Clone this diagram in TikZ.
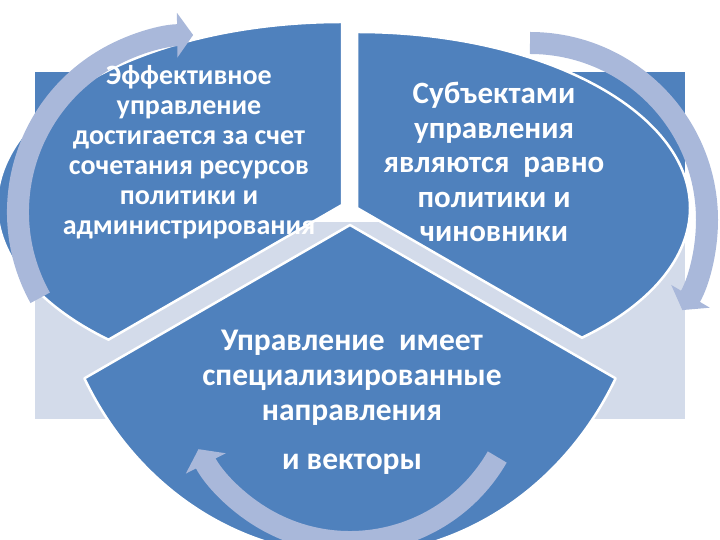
\documentclass[tikz,border=0pt]{standalone}
\usepackage{fontspec}
\setmainfont{Carlito}
\usepackage{xcolor}
\definecolor{SliceBlue}{HTML}{4F81BD}
\definecolor{SlicePale}{HTML}{D3DBEA}
\definecolor{CycleArrow}{HTML}{A9B8DA}
\usetikzlibrary{arrows.meta}
\usetikzlibrary{calc}

\begin{document}
\begin{tikzpicture}[x=1pt, y=1pt,
    slice/.style={fill=SliceBlue, draw=white, line width=2.5pt, line join=round},
    cyclearrow/.style={draw=CycleArrow, line width=22pt,
      -{Triangle[length=16pt, width=44pt]}},
    slicetext/.style={text=white, align=center, inner sep=0pt}]

    \path [use as bounding box] (0,0) rectangle (720,540);
    \clip (0,0) rectangle (720,540);

    % backdrop
    \fill[SlicePale] (35,121) rectangle (685,318);
    \fill[SliceBlue] (35,335) rectangle (342,468);
    \fill[SliceBlue] (357,335) rectangle (685,468);

    \coordinate (apexA) at (342,335);
    \coordinate (apexB) at (357,332);
    \coordinate (apexC) at (350,315);

    % three slices
    \draw[slice] (apexA) -- ++(0,183)
      arc[start angle=90, end angle=227.4, x radius=345, y radius=183] -- cycle;
    \draw[slice] (apexB) -- ++(0,176)
      arc[start angle=90, end angle=-47.5, x radius=333, y radius=176] -- cycle;
    \draw[slice] (apexC) -- ($(apexC)+(207.7:300 and 330)$)
      arc[start angle=207.7, end angle=332.3, x radius=300, y radius=330] -- cycle;

    % circular arrows
    \coordinate (ringA) at (195,328);
    \coordinate (ringB) at (530,320);
    \coordinate (ringC) at (350,168);
    \draw[cyclearrow] ($(ringA)+(209:177)$) arc[start angle=209, end angle=90.6, radius=177];
    \draw[cyclearrow] ($(ringB)+(90:177)$) arc[start angle=90, end angle=-30.6, radius=177];
    \draw[cyclearrow] ($(ringC)+(-30:170)$) arc[start angle=-30, end angle=-153, radius=170];

    \node[name=textA, slicetext, font=\bfseries\fontsize{28}{30}\selectfont] at (189,388)
      {Эффективное\\управление\\достигается за счет\\сочетания ресурсов\\политики и\\администрирования};
    \node[name=textB, slicetext, font=\bfseries\fontsize{31}{34.5}\selectfont] at (494,378)
      {Субъектами\\управления\\являются\ \ равно\\политики и\\чиновники};
    \node[name=textC, slicetext, font=\bfseries\fontsize{31.5}{35}\selectfont] at (352,138)
      {Управление\ \ имеет\\специализированные\\направления\\[14pt]и векторы};
  \end{tikzpicture}
\end{document}
